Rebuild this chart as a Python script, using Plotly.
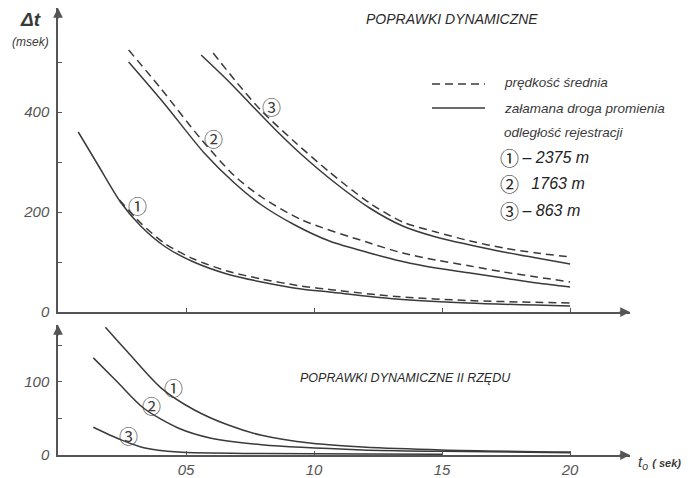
import plotly.graph_objects as go

# ---------------- data ----------------
# top panel: POPRAWKI DYNAMICZNE  (t0 in s, delta t in ms)
t1_solid = [0.079, 0.154, 0.244, 0.323, 0.42, 0.53, 0.66, 0.795, 0.95, 1.06, 1.32, 1.6, 2.0]
v1_solid = [360, 296, 220, 172, 130, 100, 76, 60, 46, 40, 26, 18, 12]
t1_dash = [0.24, 0.323, 0.42, 0.53, 0.66, 0.795, 0.95, 1.06, 1.32, 1.6, 2.0]
v1_dash = [224, 178, 136, 106, 82, 66, 52, 45, 31, 23, 18]

t2_solid = [0.276, 0.413, 0.571, 0.689, 0.795, 0.925, 1.06, 1.217, 1.346, 1.476, 1.61, 1.74, 1.87, 2.0]
v2_solid = [500, 418, 318, 258, 214, 174, 142, 118, 101, 88, 78, 68, 58, 50]
t2_dash = [0.276, 0.40, 0.56, 0.69, 0.795, 0.953, 1.217, 1.346, 1.476, 1.61, 1.74, 1.87, 2.0]
v2_dash = [524, 448, 345, 272, 230, 184, 138, 118, 104, 92, 80, 70, 60]

t3_solid = [0.559, 0.665, 0.744, 0.862, 0.953, 1.083, 1.217, 1.346, 1.476, 1.61, 1.74, 1.87, 2.0]
v3_solid = [514, 462, 420, 358, 314, 258, 208, 172, 150, 134, 120, 108, 96]
t3_dash = [0.606, 0.70, 0.795, 0.925, 1.06, 1.217, 1.346, 1.476, 1.61, 1.74, 1.87, 2.0]
v3_dash = [518, 458, 402, 340, 280, 218, 180, 160, 142, 128, 118, 110]

# bottom panel: POPRAWKI DYNAMICZNE II RZĘDU
b1_t = [0.185, 0.272, 0.402, 0.531, 0.665, 0.795, 0.992, 1.19, 1.5, 2.0]
b1_v = [175, 141, 92, 62, 41, 27, 16, 11, 7, 4]
b2_t = [0.138, 0.232, 0.335, 0.469, 0.598, 0.795, 1.19, 1.5, 2.0]
b2_v = [133, 100, 64, 37, 23, 14, 7, 5, 3]
b3_t = [0.138, 0.244, 0.335, 0.469, 0.8, 1.2, 1.5]
b3_v = [38, 21, 10, 4, 2, 1.5, 1]

x_tickvals = [0.5, 1.0, 1.5, 2.0]
x_ticktext = ["05", "10", "15", "20"]
top_tickvals = [0, 100, 200, 300, 400, 500]
top_ticktext = ["0", "", "200", "", "400", ""]
bot_tickvals = [0, 50, 100, 150]
bot_ticktext = ["0", "", "100", ""]

legend_labels = ["prędkość średnia", "załamana droga promienia", "odległość rejestracji"]
distance_marks = ["①", "②", "③"]
distances = [" – 2375 m", "   1763 m", " – 863 m"]

# ---------------- figure ----------------
W, H = 688, 478
L, R, T, B = 58, 58, 8, 23
PW, PH = W - L - R, H - T - B
X_MAX = 2.234
TOP_MAX = 608
BOT_MAX = 178

def px(x):
    return (x - L) / PW

def py(y):
    return (H - B - y) / PH

INK = "#3a3a3a"
AX = "#555555"
FONT = "Liberation Sans, Noto Sans CJK JP, sans-serif"

fig = go.Figure()

solid = dict(color=INK, width=1.5, shape="spline", smoothing=0.8)
dash = dict(color=INK, width=1.5, shape="spline", smoothing=0.8, dash="8px,5px")

for t, v, ln in [(t1_solid, v1_solid, solid), (t1_dash, v1_dash, dash),
                 (t2_solid, v2_solid, solid), (t2_dash, v2_dash, dash),
                 (t3_solid, v3_solid, solid), (t3_dash, v3_dash, dash)]:
    fig.add_trace(go.Scatter(x=t, y=v, mode="lines", line=ln, xaxis="x2", yaxis="y2",
                             showlegend=False, hoverinfo="skip"))

for t, v in [(b1_t, b1_v), (b2_t, b2_v), (b3_t, b3_v)]:
    fig.add_trace(go.Scatter(x=t, y=v, mode="lines", line=solid, xaxis="x", yaxis="y",
                             showlegend=False, hoverinfo="skip"))

tickfont = dict(family=FONT, size=15, color="#555555", style="italic")
common_x = dict(range=[0, X_MAX], showgrid=False, zeroline=False, showline=True,
                linecolor=AX, linewidth=1.5, tickvals=x_tickvals, ticktext=x_ticktext,
                ticks="inside", ticklen=4, tickcolor=AX)
common_y = dict(showgrid=False, zeroline=False, showline=True, linecolor=AX, linewidth=1.5,
                ticks="inside", ticklen=4, tickcolor=AX, tickfont=tickfont,
                ticklabelstandoff=4)

fig.update_layout(
    width=W, height=H,
    margin=dict(l=L, r=R, t=T, b=B, autoexpand=False),
    paper_bgcolor="white", plot_bgcolor="white",
    showlegend=False,
    xaxis=dict(domain=[0, 1], anchor="y", tickfont=tickfont, **common_x),
    xaxis2=dict(domain=[0, 1], anchor="y2", matches="x", showticklabels=False, **common_x),
    yaxis=dict(domain=[0, 130 / PH], anchor="x", range=[0, BOT_MAX],
               tickvals=bot_tickvals, ticktext=bot_ticktext, **common_y),
    yaxis2=dict(domain=[py(312), 1], anchor="x2", range=[0, TOP_MAX],
                tickvals=top_tickvals, ticktext=top_ticktext, **common_y),
)

ann = []
# axis arrowheads
for xr, yr, x, y, ax_, ay_ in [("x2", "y2", 0, TOP_MAX, 0, 12), ("x", "y", 0, BOT_MAX, 0, 12),
                               ("x", "y", X_MAX, 0, -12, 0), ("x2", "y2", X_MAX, 0, -12, 0)]:
    ann.append(dict(xref=xr, yref=yr, x=x, y=y, ax=ax_, ay=ay_, text="", showarrow=True,
                    arrowhead=2, arrowsize=1.3, arrowwidth=1.5, arrowcolor=AX))

def text(x, y, s, size, anchor="center", color=INK, weight="normal", style="italic"):
    ann.append(dict(xref="paper", yref="paper", x=px(x), y=py(y), text=s, showarrow=False,
                    xanchor=anchor, yanchor="middle",
                    font=dict(family=FONT, size=size, color=color, weight=weight, style=style)))

text(30, 20, "Δt", 19, weight="bold")
text(30, 42, "(msek)", 12)
text(452, 19, "POPRAWKI DYNAMICZNE", 14, color="#2a2a2a")
text(405, 378, "POPRAWKI DYNAMICZNE II RZĘDU", 12.5, color="#2a2a2a")
text(636, 462, "t<sub>o</sub> <span style='font-size:11px'><b>( sek)</b></span>", 15, anchor="left")

for s, y in zip(legend_labels, [83, 108, 132]):
    text(502, y, s, 13.5, anchor="left")
for m, s, y in zip(distance_marks, distances, [158, 183, 210]):
    ann.append(dict(xref="paper", yref="paper", x=px(498), y=py(y), text=m, showarrow=False,
                    xanchor="left", yanchor="middle",
                    font=dict(family="Noto Sans CJK JP", size=19, color="#222222")))
    text(516, y, s, 16, anchor="left", color="#222222")

# circled curve labels
for xr, yr, x, y, s in [("x2", "y2", 0.311, 214, "①"), ("x2", "y2", 0.606, 348, "②"),
                        ("x2", "y2", 0.835, 412, "③"), ("x", "y", 0.453, 92, "①"),
                        ("x", "y", 0.366, 68, "②"), ("x", "y", 0.276, 27, "③")]:
    ann.append(dict(xref=xr, yref=yr, x=x, y=y, text=s, showarrow=False,
                    font=dict(family="Noto Sans CJK JP", size=19, color=INK)))

fig.update_layout(annotations=ann)

# legend line samples
fig.add_shape(type="line", xref="paper", yref="paper", x0=px(432), x1=px(485), y0=py(84), y1=py(84),
              line=dict(color=INK, width=1.5, dash="8px,5px"))
fig.add_shape(type="line", xref="paper", yref="paper", x0=px(432), x1=px(485), y0=py(108), y1=py(108),
              line=dict(color=INK, width=1.5))

fig.write_html("out.html", config={"displayModeBar": False},
               post_script="document.body.style.margin='0';document.body.style.overflow='hidden';")
